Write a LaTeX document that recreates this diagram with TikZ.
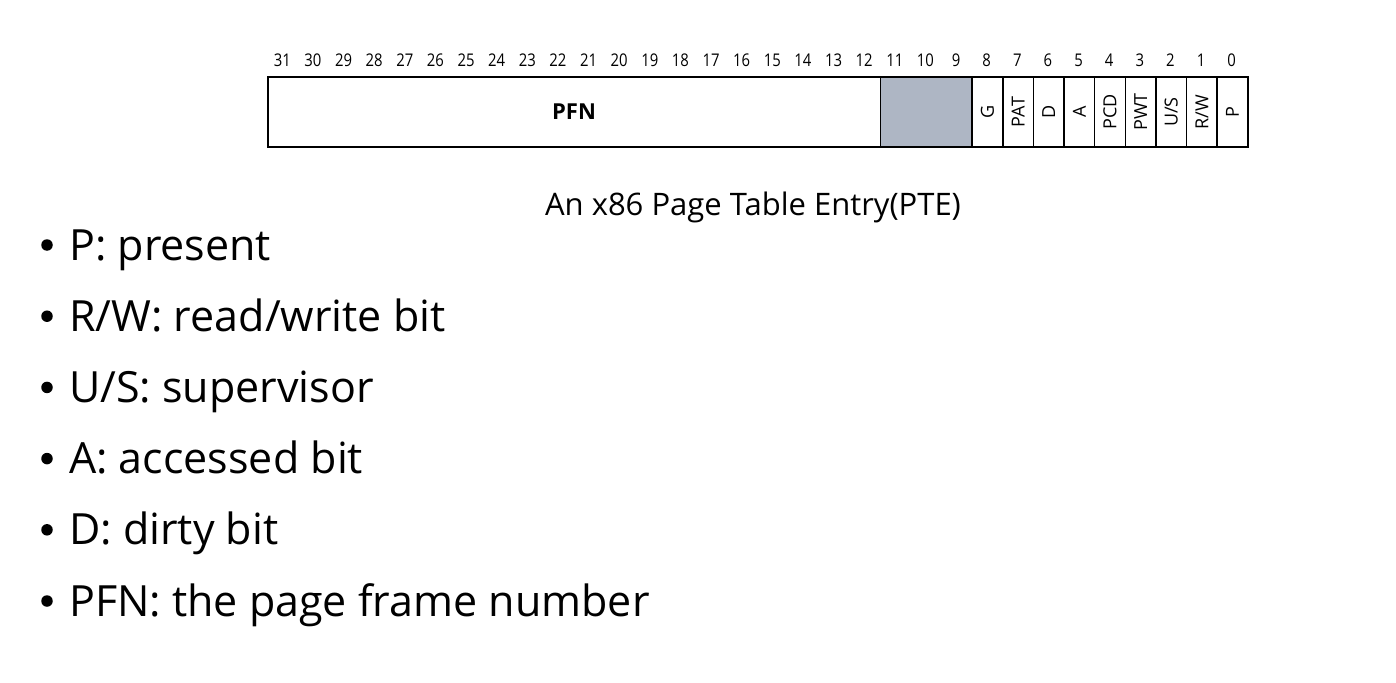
\documentclass[tikz,border=0pt]{standalone}
\usepackage{fontspec}
\setmainfont{Open Sans}
\definecolor{resgray}{RGB}{174,182,196}
\begin{document}
\begin{tikzpicture}[x=1pt,y=-1pt,
  cell/.style={draw=black,line width=1.5pt,inner sep=0pt,minimum height=70pt,anchor=west},
  bitnum/.style={font=\fontsize{17.5}{17.5}\selectfont,inner sep=0pt,anchor=base,xscale=0.85,transform shape},
  flag/.style={font=\fontsize{18}{18}\selectfont,inner sep=0pt,rotate=90},
  bul/.style={font=\fontsize{43}{43}\selectfont,inner sep=0pt,anchor=base west},
  dot/.style={circle,fill=black,inner sep=0pt,minimum size=11.5pt}]
\useasboundingbox (0,0) rectangle (1396,682);
\fill[white] (0,0) rectangle (1396,682);
% register
\node[cell,minimum width=612.5pt,font=\bfseries\fontsize{22}{22}\selectfont] (pfn) at (267,112) {PFN};
\node[cell,minimum width=91.875pt,fill=resgray] (rsv) at (879.5,112) {};
\foreach \i/\t in {8/G,7/PAT,6/D,5/A,4/PCD,3/PWT,2/U\slash S,1/R\slash W,0/P}{
  \node[cell,minimum width=30.625pt] (b\i) at ({971.375+(8-\i)*30.625},112) {};
  \node[flag] (l\i) at (b\i.center) {\t};
}
\foreach \i in {0,...,31}{
  \node[bitnum] (n\i) at ({267+(31-\i)*30.625+15.3125},67) {\i};
}
\node[font=\fontsize{31}{31}\selectfont,inner sep=0pt,anchor=base] (cap) at (753,215) {An x86 Page Table Entry(PTE)};
% bullets
\foreach \k/\t in {0/P: present,1/R\slash W: read\slash write bit,2/U\slash S: supervisor,3/A: accessed bit,4/D: dirty bit,5/PFN: the page frame number}{
  \node[dot] (d\k) at (47,{245+\k*71.2}) {};
  \node[bul] (t\k) at (69,{260+\k*71.2}) {\t};
}
\end{tikzpicture}
\end{document}
